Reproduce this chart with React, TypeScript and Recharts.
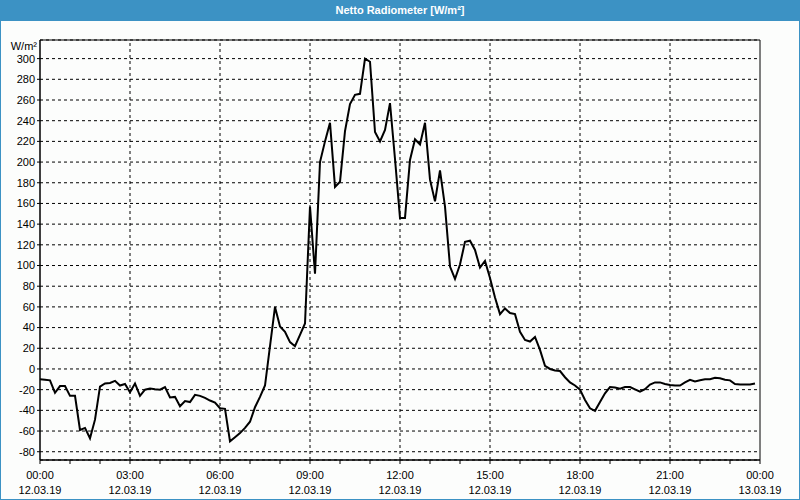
import React from "react";
import {
  LineChart,
  Line,
  XAxis,
  YAxis,
  CartesianGrid,
  ReferenceLine,
  ReferenceArea,
} from "recharts";

// Netto Radiometer values, one per 10 minutes from 00:00 to 23:50 (W/m²)
const values: number[] = [
  -10, -10.5, -11, -23, -16.5, -16.5, -26, -26, -59, -57, -67, -49,
  -17, -14, -13.5, -11.5, -16, -14.5, -22.5, -14, -26, -20, -19, -19.7,
  -20, -17.5, -27.5, -27, -36, -31, -32, -25, -26, -28, -30.5, -32.5,
  -38, -38.5, -70, -66, -62, -57, -51, -37, -27, -16, 22, 60,
  41, 36, 26, 22, 33, 44, 157, 92, 200, 220, 238, 176,
  181, 230, 256, 265, 266, 300, 297, 229, 220, 231, 257, 203,
  146, 146, 202, 222, 217, 238, 183, 162, 192, 157, 99, 87,
  101, 123, 124, 115, 98, 104.5, 88, 69, 53, 58.5, 54, 53,
  36, 28, 26.5, 31, 18.5, 3, 0, -1.5, -2, -8, -13, -16,
  -20, -30, -38, -40.5, -32, -23.5, -17.5, -18, -19, -17.5, -17.5, -19.7,
  -22, -19.5, -15, -13, -13, -14.5, -15.5, -16, -16, -13, -10.5, -12,
  -11, -10, -10, -8.5, -9, -10.5, -11, -14.5, -15, -15, -15, -14,
];

// minutes since 12.03.19 00:00 for each sample
const sampleMinutes: number[] = values.map((_, i) => i * 10);

const xTickMinutes: number[] = [
  0, 60, 120, 180, 240, 300, 360, 420, 480, 540, 600, 660, 720,
  780, 840, 900, 960, 1020, 1080, 1140, 1200, 1260, 1320, 1380, 1440,
];
const majorMinutes: number[] = [0, 180, 360, 540, 720, 900, 1080, 1260, 1440];
const tickTimes: string[] = ["00:00", "03:00", "06:00", "09:00", "12:00", "15:00", "18:00", "21:00", "00:00"];
const tickDates: string[] = ["12.03.19", "12.03.19", "12.03.19", "12.03.19", "12.03.19", "12.03.19", "12.03.19", "12.03.19", "13.03.19"];
const gridMinutes: number[] = [180, 360, 540, 720, 900, 1080, 1260];
const yTicks: number[] = [-80, -60, -40, -20, 0, 20, 40, 60, 80, 100, 120, 140, 160, 180, 200, 220, 240, 260, 280, 300];

const data = values.map((v, i) => ({ t: sampleMinutes[i], v }));

const FONT = "'Liberation Sans', Arial, sans-serif";
const BLUE = "#3c92c4";

const XTick = (props: any) => {
  const { x, y, payload } = props;
  const idx = majorMinutes.indexOf(payload.value);
  if (idx < 0) return null;
  return (
    <g>
      <text x={x} y={y + 13} textAnchor="middle" fontFamily={FONT} fontSize={11} fill="#000">
        {tickTimes[idx]}
      </text>
      <text x={x} y={y + 28} textAnchor="middle" fontFamily={FONT} fontSize={11} fill="#000">
        {tickDates[idx]}
      </text>
    </g>
  );
};

export default function App() {
  return (
    <div
      style={{
        position: "absolute",
        left: 0,
        top: 0,
        width: 800,
        height: 500,
        background: "#fcfdfc",
        overflow: "hidden",
        fontFamily: FONT,
      }}
    >
      <div
        style={{
          position: "absolute",
          left: 0,
          top: 0,
          width: 800,
          height: 21,
          background: BLUE,
          color: "#fff",
          fontWeight: "bold",
          fontSize: 11,
          lineHeight: "21px",
          textAlign: "center",
        }}
      >
        Netto Radiometer [W/m²]
      </div>
      <div
        style={{
          position: "absolute",
          left: 0,
          top: 39,
          width: 37,
          fontSize: 11,
          lineHeight: "14px",
          textAlign: "right",
          color: "#000",
        }}
      >
        W/m²
      </div>
      <div style={{ position: "absolute", left: 0, top: 21 }}>
        <LineChart
          width={800}
          height={479}
          data={data}
          margin={{ top: 19, right: 40, bottom: 0, left: 0 }}
        >
          <CartesianGrid vertical={false} stroke="#000" strokeDasharray="3 3" />
          {gridMinutes.map((m) => (
            <ReferenceLine key={m} x={m} stroke="#000" strokeDasharray="3 3" />
          ))}
          <XAxis
            dataKey="t"
            type="number"
            domain={[0, 1440]}
            ticks={xTickMinutes}
            interval={0}
            height={40}
            tickSize={4}
            tick={<XTick />}
            axisLine={{ stroke: "#000" }}
            tickLine={{ stroke: "#000" }}
          />
          <YAxis
            type="number"
            domain={[-88, 318]}
            ticks={yTicks}
            interval={0}
            width={40}
            tickSize={3}
            allowDataOverflow
            tick={{ fontFamily: FONT, fontSize: 11, fill: "#000" }}
            axisLine={{ stroke: "#000" }}
            tickLine={{ stroke: "#000" }}
          />
          <ReferenceArea x1={0} x2={1440} y1={-88} y2={318} fill="none" stroke="#000" strokeWidth={1} />
          <Line
            type="linear"
            dataKey="v"
            stroke="#000"
            strokeWidth={2}
            dot={false}
            isAnimationActive={false}
          />
        </LineChart>
      </div>
      <div
        style={{
          position: "absolute",
          left: 0,
          top: 0,
          width: 800,
          height: 500,
          boxSizing: "border-box",
          border: `1px solid ${BLUE}`,
          pointerEvents: "none",
        }}
      />
    </div>
  );
}
